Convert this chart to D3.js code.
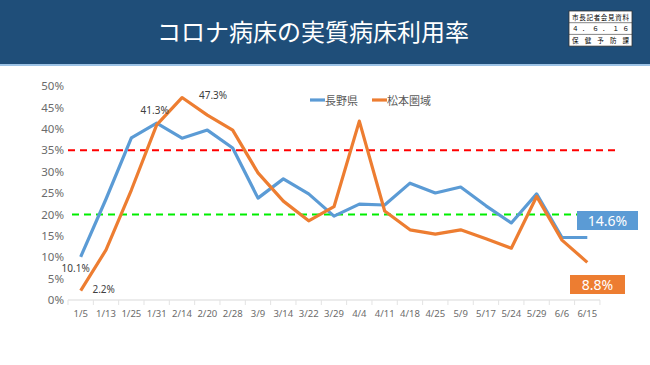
<!DOCTYPE html>
<html>
<head>
<meta charset="utf-8">
<script src="https://cdn.jsdelivr.net/npm/d3@7"></script>
<style>
  body { margin: 0; background: #fff; }
  svg { display: block; font-family: "Noto Sans CJK JP", "Noto Sans", sans-serif; }
</style>
</head>
<body>
<script>
// data
var dates = ["1/5","1/13","1/25","1/31","2/14","2/20","2/28","3/9","3/14","3/22","3/29",
             "4/4","4/11","4/18","4/25","5/9","5/17","5/24","5/29","6/6","6/15"];
var nagano = [10.1, 23.6, 37.9, 41.3, 37.8, 39.7, 35.5, 23.8, 28.3, 24.8, 19.6,
              22.4, 22.2, 27.3, 25.0, 26.4, 22.0, 18.0, 24.8, 14.6, 14.6];
var matsumoto = [2.2, 11.7, 25.7, 40.9, 47.3, 43.2, 39.7, 29.7, 23.1, 18.5, 21.8,
                 41.8, 20.8, 16.4, 15.4, 16.4, 14.3, 12.1, 24.2, 14.0, 8.8];
var yTicks = [0, 5, 10, 15, 20, 25, 30, 35, 40, 45, 50];
var seriesNames = ["長野県", "松本圏域"];

var W = 650, H = 365;
var blue = "#5b9bd5", orange = "#ed7d31";

var svg = d3.select("body").append("svg")
    .attr("width", W)
    .attr("height", H);

// header band
svg.append("rect").attr("x", 0).attr("y", 0).attr("width", W).attr("height", 64).attr("fill", "#1f4e79");
svg.append("rect").attr("x", 0).attr("y", 64).attr("width", W).attr("height", 2).attr("fill", "#9dc3e6");
svg.append("text")
    .attr("x", 313).attr("y", 41)
    .attr("text-anchor", "middle")
    .attr("fill", "#fff")
    .attr("font-size", 24)
    .text("コロナ病床の実質病床利用率");

// stamp box on the right
var boxRows = ["市長記者会見資料", "４．６．１６", "保健予防課"];
var bx = 569, by = 11, bw = 63, bh = 11.7;
svg.append("rect").attr("x", bx).attr("y", by).attr("width", bw).attr("height", bh * 3)
    .attr("fill", "#fff").attr("stroke", "#333").attr("stroke-width", 0.8);
boxRows.forEach(function (t, i) {
    if (i > 0) {
        svg.append("line").attr("x1", bx).attr("x2", bx + bw)
            .attr("y1", by + bh * i).attr("y2", by + bh * i)
            .attr("stroke", "#333").attr("stroke-width", 0.6);
    }
    svg.append("text")
        .attr("x", bx + bw / 2).attr("y", by + bh * i + 8.6)
        .attr("text-anchor", "middle")
        .attr("font-size", 6.5)
        .attr("fill", "#000")
        .attr("textLength", bw - 6)
        .attr("lengthAdjust", "spacing")
        .text(t);
});

// scales
var x = d3.scalePoint().domain(dates).range([80.7, 587.3]);
var y = d3.scaleLinear().domain([0, 50]).range([300, 86]);

// y axis labels (no line)
svg.append("g")
    .attr("transform", "translate(64,0)")
    .call(d3.axisLeft(y).tickValues(yTicks).tickSize(0).tickPadding(0)
        .tickFormat(function (d) { return d + "%"; }))
    .call(function (g) { g.select(".domain").remove(); })
    .selectAll("text")
    .attr("fill", "#6b6b6b")
    .attr("font-size", 11.5)
    .attr("font-family", "Noto Sans, sans-serif");

// x axis
var bandW = x.step();
var xg = svg.append("g").attr("transform", "translate(0,300)");
xg.append("line").attr("x1", 68).attr("x2", 600).attr("y1", 0).attr("y2", 0)
    .attr("stroke", "#d9d9d9");
xg.selectAll(".tk").data(d3.range(dates.length + 1)).enter().append("line")
    .attr("x1", function (i) { return 68 + i * bandW; })
    .attr("x2", function (i) { return 68 + i * bandW; })
    .attr("y1", 0).attr("y2", 5)
    .attr("stroke", "#e3e3e3");
xg.selectAll(".lb").data(dates).enter().append("text")
    .attr("x", function (d) { return x(d); })
    .attr("y", 17)
    .attr("text-anchor", "middle")
    .attr("fill", "#6b6b6b")
    .attr("font-size", 9.5)
    .attr("font-family", "Noto Sans, sans-serif")
    .text(function (d) { return d; });

// threshold lines
svg.append("line")
    .attr("x1", 68).attr("x2", 618).attr("y1", y(35)).attr("y2", y(35))
    .attr("stroke", "#ff0000").attr("stroke-width", 2).attr("stroke-dasharray", "7,5");
svg.append("line")
    .attr("x1", 72).attr("x2", 577).attr("y1", y(20)).attr("y2", y(20))
    .attr("stroke", "#00ee00").attr("stroke-width", 2).attr("stroke-dasharray", "7,5");

var line = d3.line()
    .x(function (d, i) { return x(dates[i]); })
    .y(function (d) { return y(d); });

svg.append("path").datum(nagano)
    .attr("fill", "none").attr("stroke", blue).attr("stroke-width", 3.2)
    .attr("stroke-linejoin", "round")
    .attr("d", line);
svg.append("path").datum(matsumoto)
    .attr("fill", "none").attr("stroke", orange).attr("stroke-width", 3.2)
    .attr("stroke-linejoin", "round")
    .attr("d", line);

// data labels
function lab(tx, ty, t) {
    svg.append("text").attr("x", tx).attr("y", ty)
        .attr("fill", "#404040").attr("font-size", 10)
        .attr("font-family", "Noto Sans, sans-serif")
        .attr("text-anchor", "middle")
        .text(t);
}
lab(x(dates[0]) - 5, y(nagano[0]) + 15, nagano[0].toFixed(1) + "%");
lab(x(dates[0]) + 23, y(matsumoto[0]) + 2.5, matsumoto[0].toFixed(1) + "%");
lab(x(dates[3]) - 2, y(nagano[3]) - 9, nagano[3].toFixed(1) + "%");
lab(x(dates[4]) + 31, y(matsumoto[4]) + 1, matsumoto[4].toFixed(1) + "%");

// end boxes
function endBox(bx0, by0, w, h, col, t) {
    svg.append("rect").attr("x", bx0).attr("y", by0).attr("width", w).attr("height", h).attr("fill", col);
    svg.append("text").attr("x", bx0 + w / 2).attr("y", by0 + h / 2 + 5)
        .attr("text-anchor", "middle").attr("fill", "#fff")
        .attr("font-size", 14).attr("font-family", "Noto Sans, sans-serif")
        .text(t);
}
endBox(577, 211, 61, 19, blue, nagano[nagano.length - 1].toFixed(1) + "%");
endBox(570, 275, 55, 19, orange, matsumoto[matsumoto.length - 1].toFixed(1) + "%");

// legend
var leg = svg.append("g").attr("transform", "translate(310,100)");
var legX = [0, 62];
seriesNames.forEach(function (n, i) {
    var col = i === 0 ? blue : orange;
    leg.append("line").attr("x1", legX[i]).attr("x2", legX[i] + 15).attr("y1", 0).attr("y2", 0)
        .attr("stroke", col).attr("stroke-width", 3.2);
    leg.append("text").attr("x", legX[i] + 15).attr("y", 4.5)
        .attr("fill", "#595959").attr("font-size", 11)
        .text(n);
});
</script>
</body>
</html>
